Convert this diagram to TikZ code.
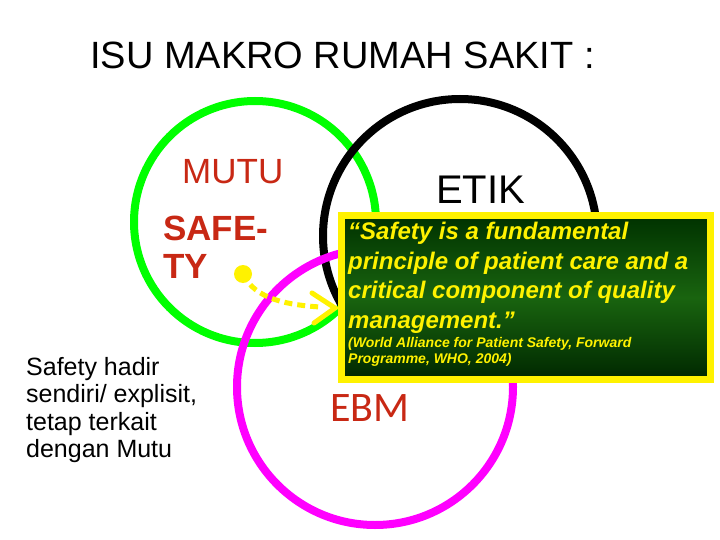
\documentclass[tikz,border=0pt]{standalone}
\usepackage{fontspec}
\setmainfont{Liberation Sans}
\newfontfamily\carl{Carlito}
\usetikzlibrary{arrows.meta,shadings}
\definecolor{mred}{RGB}{200,40,20}
\definecolor{dgreen}{RGB}{0,50,0}
\definecolor{lgreen}{RGB}{25,100,15}
\definecolor{mag}{RGB}{255,0,255}
\tikzset{ring/.style={line width=8pt},
 lbl/.style={inner sep=0pt, anchor=west, align=left}}
\begin{document}
\begin{tikzpicture}[x=1pt,y=-1pt]
\useasboundingbox[fill=white] (0,0) rectangle (720,540);
\node[lbl, font=\fontsize{38}{40}\selectfont] (title) at (90,55) {ISU MAKRO RUMAH SAKIT :};
\draw[ring, green] (255,222) circle (121);
\draw[ring, black] (460,236) circle (137);
\draw[ring, mag] (375,387) circle (138);
\node[lbl, text=mred, font=\fontsize{35}{36}\selectfont] (mutu) at (182,172) {MUTU};
\node[lbl, text=mred, font=\bfseries\fontsize{35}{38}\selectfont] (safe) at (163,247) {SAFE-\\TY};
\node[lbl, font=\fontsize{40}{42}\selectfont] (etik) at (436,190) {ETIK};
\node[lbl, text=mred, font=\carl\fontsize{42}{44}\selectfont] (ebm) at (330,408) {EBM};
\node[lbl, font=\fontsize{25}{27.5}\selectfont] (note) at (26,410) {Safety hadir\\sendiri/ explisit,\\tetap terkait\\dengan Mutu};
\node[draw=yellow, line width=7pt, minimum width=369pt, minimum height=163pt, inner sep=0pt,
  top color=dgreen, bottom color=dgreen!80!black, middle color=lgreen] (box) at (525.5,297.5) {};
\node[lbl, text=yellow, font=\bfseries\itshape\fontsize{24}{29.5}\selectfont, anchor=north west] (quote) at (348,222)
 {``Safety is a fundamental\\principle of patient care and a\\critical component of quality\\management.''};
\node[lbl, text=yellow, font=\bfseries\itshape\fontsize{14}{16}\selectfont, anchor=north west] (src) at (348,337)
 {(World Alliance for Patient Safety, Forward\\Programme, WHO, 2004)};
\fill[yellow] (243,274) circle (9) coordinate (dot);
\coordinate (tip) at (335,308);
\draw[yellow, line width=5pt, dash pattern=on 8pt off 5pt] (dot) .. controls (255,300) and (290,305) .. (320,307);
\draw[yellow, line width=5pt, line cap=round] (312,293) -- (tip) -- (314,323);
\end{tikzpicture}
\end{document}
